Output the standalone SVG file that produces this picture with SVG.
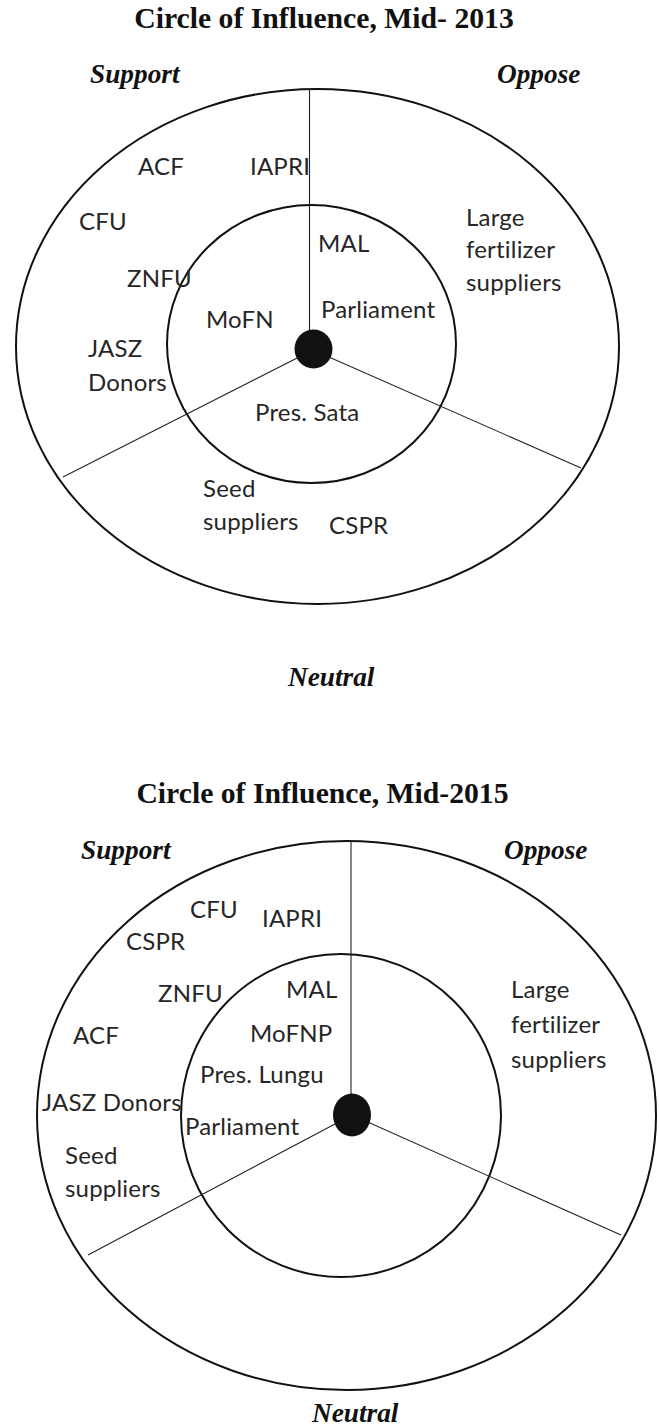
<svg xmlns="http://www.w3.org/2000/svg" width="659" height="1428" viewBox="0 0 659 1428">
<style>
.title{font-family:"Liberation Serif","Times New Roman",serif;font-weight:bold;font-size:29.7px;fill:#111;text-anchor:middle}
.side{font-family:"Liberation Serif","Times New Roman",serif;font-weight:bold;font-style:italic;font-size:27.3px;fill:#111}
.lbl{font-family:Lato,"Open Sans",sans-serif;font-size:24px;letter-spacing:0.2px;fill:#262626}
.ring{fill:none;stroke:#111;stroke-width:2}
.div{stroke:#222;stroke-width:1.1;fill:none}
.dot{fill:#111}
</style>
<rect width="659" height="1428" fill="#fff"/>

<!-- ===== Diagram 1 ===== -->
<g id="diagram-2013">
<text class="title" x="324" y="28">Circle of Influence, Mid- 2013</text>
<text id="support-2013" class="side" x="90" y="83">Support</text>
<text id="oppose-2013" class="side" x="497" y="83">Oppose</text>
<text id="neutral-2013" class="side" x="288" y="686">Neutral</text>
<g id="rings-2013">
<ellipse class="ring" cx="317.5" cy="346.5" rx="301.5" ry="257.5"/>
<ellipse class="ring" cx="311.5" cy="344" rx="144.5" ry="139"/>
</g>
<g id="connectors-2013">
<line class="div" x1="309.5" y1="89" x2="309.5" y2="335"/>
<line class="div" x1="313" y1="350" x2="63" y2="477"/>
<line class="div" x1="313" y1="350" x2="581" y2="468"/>
</g>
<ellipse id="center-2013" class="dot" cx="313.5" cy="349" rx="19" ry="19.5"/>
<g id="n-acf-2013"><text class="lbl" x="138" y="175">ACF</text></g>
<g id="n-iapri-2013"><text class="lbl" x="250" y="175">IAPRI</text></g>
<g id="n-cfu-2013"><text class="lbl" x="79" y="230">CFU</text></g>
<g id="n-znfu-2013"><text class="lbl" x="127" y="287">ZNFU</text></g>
<g id="n-mofn-2013"><text class="lbl" x="206" y="328">MoFN</text></g>
<g id="n-jasz-2013"><text class="lbl" x="88" y="357">JASZ</text><text class="lbl" x="88" y="391">Donors</text></g>
<g id="n-mal-2013"><text class="lbl" x="318" y="252">MAL</text></g>
<g id="n-parl-2013"><text class="lbl" x="321" y="318">Parliament</text></g>
<g id="n-large-2013"><text class="lbl" x="466" y="226">Large</text><text class="lbl" x="466" y="258">fertilizer</text><text class="lbl" x="466" y="291">suppliers</text></g>
<g id="n-pres-2013"><text class="lbl" x="255" y="421">Pres. Sata</text></g>
<g id="n-seed-2013"><text class="lbl" x="203" y="497">Seed</text><text class="lbl" x="203" y="530">suppliers</text></g>
<g id="n-cspr-2013"><text class="lbl" x="329" y="534">CSPR</text></g>
</g>

<!-- ===== Diagram 2 ===== -->
<g id="diagram-2015">
<text class="title" x="322.5" y="803">Circle of Influence, Mid-2015</text>
<text id="support-2015" class="side" x="81" y="859">Support</text>
<text id="oppose-2015" class="side" x="504" y="859">Oppose</text>
<text id="neutral-2015" class="side" x="312" y="1422">Neutral</text>
<g id="rings-2015">
<ellipse class="ring" cx="346.5" cy="1115.5" rx="309.5" ry="274.5"/>
<ellipse class="ring" cx="341" cy="1115.5" rx="160" ry="161.5"/>
</g>
<g id="connectors-2015">
<line class="div" x1="351" y1="841" x2="351" y2="1098"/>
<line class="div" x1="352" y1="1115" x2="88" y2="1255"/>
<line class="div" x1="352" y1="1115" x2="621" y2="1235"/>
</g>
<ellipse id="center-2015" class="dot" cx="352" cy="1115" rx="19" ry="21.5"/>
<g id="n-cfu-2015"><text class="lbl" x="190" y="918">CFU</text></g>
<g id="n-iapri-2015"><text class="lbl" x="262" y="927">IAPRI</text></g>
<g id="n-cspr-2015"><text class="lbl" x="126" y="950">CSPR</text></g>
<g id="n-znfu-2015"><text class="lbl" x="158" y="1002">ZNFU</text></g>
<g id="n-mal-2015"><text class="lbl" x="286" y="998">MAL</text></g>
<g id="n-acf-2015"><text class="lbl" x="73" y="1044">ACF</text></g>
<g id="n-mofnp-2015"><text class="lbl" x="250" y="1042">MoFNP</text></g>
<g id="n-pres-2015"><text class="lbl" x="200" y="1083">Pres. Lungu</text></g>
<g id="n-jasz-2015"><text class="lbl" x="42" y="1111">JASZ Donors</text></g>
<g id="n-parl-2015"><text class="lbl" x="185" y="1135">Parliament</text></g>
<g id="n-seed-2015"><text class="lbl" x="65" y="1164">Seed</text><text class="lbl" x="65" y="1197">suppliers</text></g>
<g id="n-large-2015"><text class="lbl" x="511" y="998">Large</text><text class="lbl" x="511" y="1033">fertilizer</text><text class="lbl" x="511" y="1068">suppliers</text></g>
</g>
</svg>
